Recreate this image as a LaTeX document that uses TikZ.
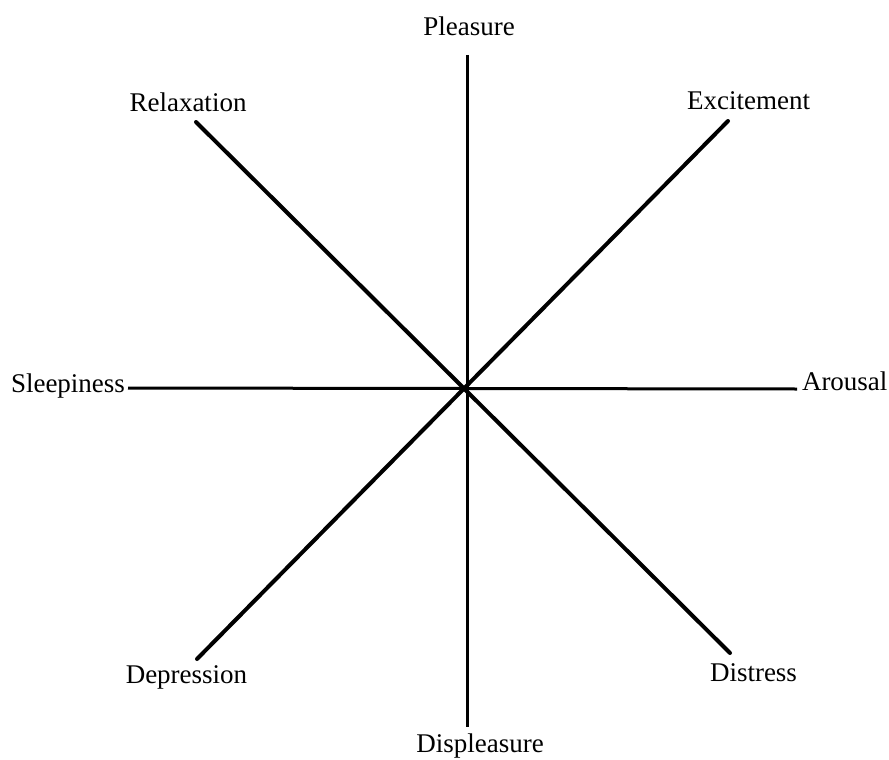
\documentclass[tikz,border=0pt]{standalone}
\usepackage{fontspec}
\setmainfont{Liberation Serif}
\begin{document}
\begin{tikzpicture}[x=1pt,y=-1pt,
  lbl/.style={font=\fontsize{27}{31}\selectfont, inner sep=0pt, outer sep=0pt},
  axis/.style={line width=3pt},
  diag/.style={line width=4pt, line cap=round}]
\useasboundingbox (0,0) rectangle (889,760);
% end points
\coordinate (c) at (466,388);
\coordinate (top) at (467,55);
\coordinate (bot) at (467,727);
\coordinate (lft) at (128,388);
\coordinate (rgt) at (797,389);
\coordinate (tl) at (196,122);
\coordinate (br) at (730,653);
\coordinate (tr) at (728,121);
\coordinate (bl) at (197,659);
% axes
\draw[axis] (top) -- (bot);
\draw[axis] (lft) -- (rgt);
\draw[diag] (tl) -- (br);
\draw[diag] (tr) -- (bl);
% labels
\node[lbl, anchor=base] (pleasure) at (469,36) {Pleasure};
\node[lbl, anchor=base] (relax) at (188,111) {Relaxation};
\node[lbl, anchor=base] (excite) at (748.5,110) {Excitement};
\node[lbl, anchor=base west] (sleep) at (11,392) {Sleepiness};
\node[lbl, anchor=base west] (arousal) at (802,390) {Arousal};
\node[lbl, anchor=base] (depress) at (186.5,683) {Depression};
\node[lbl, anchor=base] (distress) at (753.5,681) {Distress};
\node[lbl, anchor=base] (displeasure) at (480,752) {Displeasure};
\end{tikzpicture}
\end{document}
